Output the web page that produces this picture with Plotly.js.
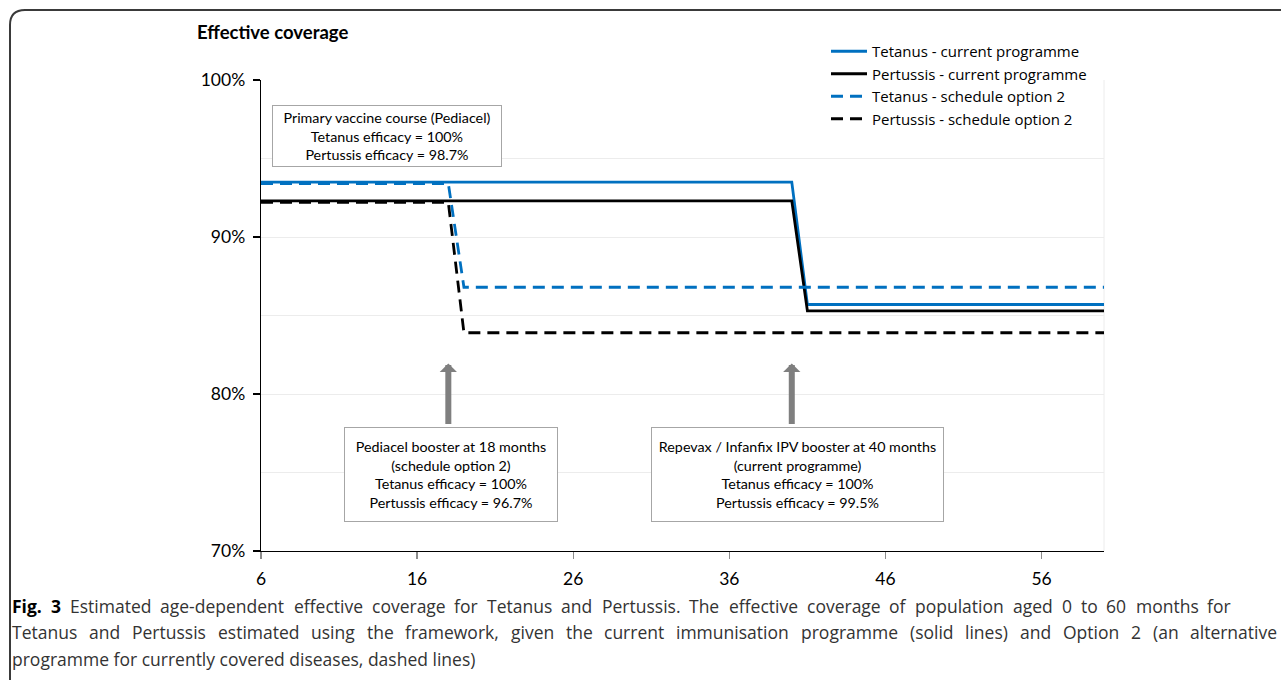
<!DOCTYPE html>
<html>
<head>
<meta charset="utf-8">
<script src="https://cdn.plot.ly/plotly-3.0.1.min.js"></script>
<style>
  html, body { margin: 0; padding: 0; background: #fff; }
  #chart { width: 1281px; height: 680px; }
</style>
</head>
<body>
<div id="chart"></div>
<script>
// ---- data ----
const monthsCurrent = [6, 40, 41, 60];
const tetanusCurrent = [0.935, 0.935, 0.857, 0.857];
const pertussisCurrent = [0.923, 0.923, 0.853, 0.853];

const monthsOption2 = [6, 18, 19, 60];
const tetanusOption2 = [0.934, 0.934, 0.868, 0.868];
const pertussisOption2 = [0.922, 0.922, 0.839, 0.839];

const seriesNames = [
  'Tetanus - current programme',
  'Pertussis - current programme',
  'Tetanus - schedule option 2',
  'Pertussis - schedule option 2'
];

const xTickVals = [6, 16, 26, 36, 46, 56];

const boxTexts = [
  'Primary vaccine course (Pediacel)<br>Tetanus efficacy = 100%<br>Pertussis efficacy = 98.7%',
  'Pediacel booster at 18 months<br>(schedule option 2)<br>Tetanus efficacy = 100%<br>Pertussis efficacy = 96.7%',
  'Repevax / Infanfix IPV booster at 40 months<br>(current programme)<br>Tetanus efficacy = 100%<br>Pertussis efficacy = 99.5%'
];
const boosterMonths = [18, 40];

const captionBold = 'Fig. 3';
const captionLine1 = 'Estimated age-dependent effective coverage for Tetanus and Pertussis. The effective coverage of population aged 0 to 60 months for';
const captionLine2 = 'Tetanus and Pertussis estimated using the framework, given the current immunisation programme (solid lines) and Option 2 (an alternative';
const captionLine3 = 'programme for currently covered diseases, dashed lines)';

// ---- layout geometry ----
const W = 1281, H = 680;
const M = {l: 261, r: 177, t: 80, b: 129};
const PW = W - M.l - M.r, PH = H - M.t - M.b;
const px = x => (x - M.l) / PW;
const py = y => (H - M.b - y) / PH;

const BLUE = '#0070C0';
const BLACK = '#000000';

const traces = [
  {x: monthsCurrent, y: tetanusCurrent, name: seriesNames[0], mode: 'lines',
   line: {color: BLUE, width: 2.8}},
  {x: monthsCurrent, y: pertussisCurrent, name: seriesNames[1], mode: 'lines',
   line: {color: BLACK, width: 2.8}},
  {x: monthsOption2, y: tetanusOption2, name: seriesNames[2], mode: 'lines',
   line: {color: BLUE, width: 2.8, dash: '12px,7px'}},
  {x: monthsOption2, y: pertussisOption2, name: seriesNames[3], mode: 'lines',
   line: {color: BLACK, width: 2.8, dash: '12px,7px'}}
];

const CAPFAMILY = 'Open Sans';
const CAPFONT = "'Open Sans', sans-serif";
const CAPSIZE = 17.5;
const CAPCOLOR = '#333333';

const annotations = [];

// annotation boxes
const boxStyle = {bordercolor: '#a6a6a6', borderwidth: 1, bgcolor: '#ffffff',
  font: {size: 14.3, color: '#000'}, showarrow: false, align: 'center',
  xref: 'paper', yref: 'paper', xanchor: 'center', yanchor: 'middle'};
annotations.push(Object.assign({}, boxStyle, {text: boxTexts[0], x: px(387), y: py(136), width: 226, height: 58}));
annotations.push(Object.assign({}, boxStyle, {text: boxTexts[1], x: px(451), y: py(474.5), width: 210, height: 91}));
annotations.push(Object.assign({}, boxStyle, {text: boxTexts[2], x: px(797.5), y: py(474.5), width: 289, height: 91}));

// arrows
boosterMonths.forEach(m => {
  annotations.push({x: m, y: 0.8195, xref: 'x', yref: 'y', text: '', showarrow: true,
    ax: 0, ay: 62, arrowcolor: '#7f7f7f', arrowwidth: 6, arrowhead: 1, arrowsize: 0.48,
    standoff: 0, startstandoff: 0});
});

// caption lines, word-by-word justified where the reference is justified
const cv = document.createElement('canvas');
const ctx = cv.getContext('2d');
function measure(word, bold) {
  ctx.font = (bold ? 'bold ' : '') + CAPSIZE + "px '" + CAPFAMILY + "'";
  return ctx.measureText(word).width;
}
function placeLine(words, left, right, yPix) {
  const widths = words.map(w => measure(w.t, w.b));
  const total = widths.reduce((a, b) => a + b, 0);
  const gap = (right - left - total) / (words.length - 1);
  let cx = left;
  words.forEach((w, i) => {
    annotations.push({text: w.b ? '<b>' + w.t + '</b>' : w.t, x: px(cx - 1), y: py(yPix),
      xref: 'paper', yref: 'paper', xanchor: 'left', yanchor: 'middle', showarrow: false,
      font: {family: CAPFONT, size: CAPSIZE, color: w.b ? '#000' : CAPCOLOR}});
    cx += widths[i] + gap;
  });
}
const line1Words = captionBold.split(' ').map(t => ({t: t, b: true}))
  .concat(captionLine1.split(' ').map(t => ({t: t, b: false})));
placeLine(line1Words, 11, 1230, 606);
placeLine(captionLine2.split(' ').map(t => ({t: t, b: false})), 11, 1276, 632);
annotations.push({text: captionLine3, x: px(10), y: py(659), xref: 'paper', yref: 'paper',
  xanchor: 'left', yanchor: 'middle', showarrow: false, font: {family: CAPFONT, size: CAPSIZE, color: CAPCOLOR}});

// outer rounded frame
const r = 15;
const frame = `M ${px(10)},${py(700)} L ${px(10)},${py(10 + r)} Q ${px(10)},${py(10)} ${px(10 + r)},${py(10)} L ${px(1300)},${py(10)}`;

const shapes = [
  {type: 'path', xref: 'paper', yref: 'paper', path: frame, line: {color: '#3a3a3a', width: 2}, layer: 'above'},
  {type: 'line', xref: 'paper', yref: 'paper', x0: 1, x1: 1, y0: 0, y1: 1, line: {color: '#ececec', width: 1}, layer: 'below'}
];

const layout = {
  width: W, height: H,
  margin: M,
  paper_bgcolor: '#ffffff', plot_bgcolor: '#ffffff',
  font: {family: 'Lato, sans-serif', color: '#000'},
  showlegend: true,
  title: {text: '<b>Effective coverage</b>', font: {size: 18.5, color: '#000'},
    xref: 'container', yref: 'container', x: 197 / W, xanchor: 'left', y: 1 - 33 / H, yanchor: 'middle'},
  xaxis: {range: [6, 60], tickmode: 'array', tickvals: xTickVals, ticks: 'outside', ticklen: 7,
    tickcolor: '#8c8c8c', tickwidth: 1.3, showgrid: false, showline: true, linecolor: '#000',
    linewidth: 1.3, zeroline: false, tickfont: {size: 17.5}, ticklabelstandoff: 5},
  yaxis: {range: [0.70, 1.00], tickmode: 'linear', tick0: 0.7, dtick: 0.1, tickformat: '.0%',
    ticks: 'outside', ticklen: 7, tickcolor: '#000', tickwidth: 1.3, showgrid: true, gridcolor: '#ececec',
    gridwidth: 1, minor: {dtick: 0.05, showgrid: true, gridcolor: '#ececec', ticks: ''},
    showline: true, linecolor: '#000', linewidth: 1.3, zeroline: false, tickfont: {size: 17.5},
    ticklabelstandoff: 4},
  legend: {x: px(826), y: py(35), xanchor: 'left', yanchor: 'top', bgcolor: '#ffffff',
    font: {family: "'Open Sans', sans-serif", size: 15, color: '#000'}, tracegroupgap: 0, itemwidth: 36},
  annotations: annotations,
  shapes: shapes
};

Plotly.newPlot('chart', traces, layout, {displayModeBar: false, staticPlot: true});
</script>
</body>
</html>
